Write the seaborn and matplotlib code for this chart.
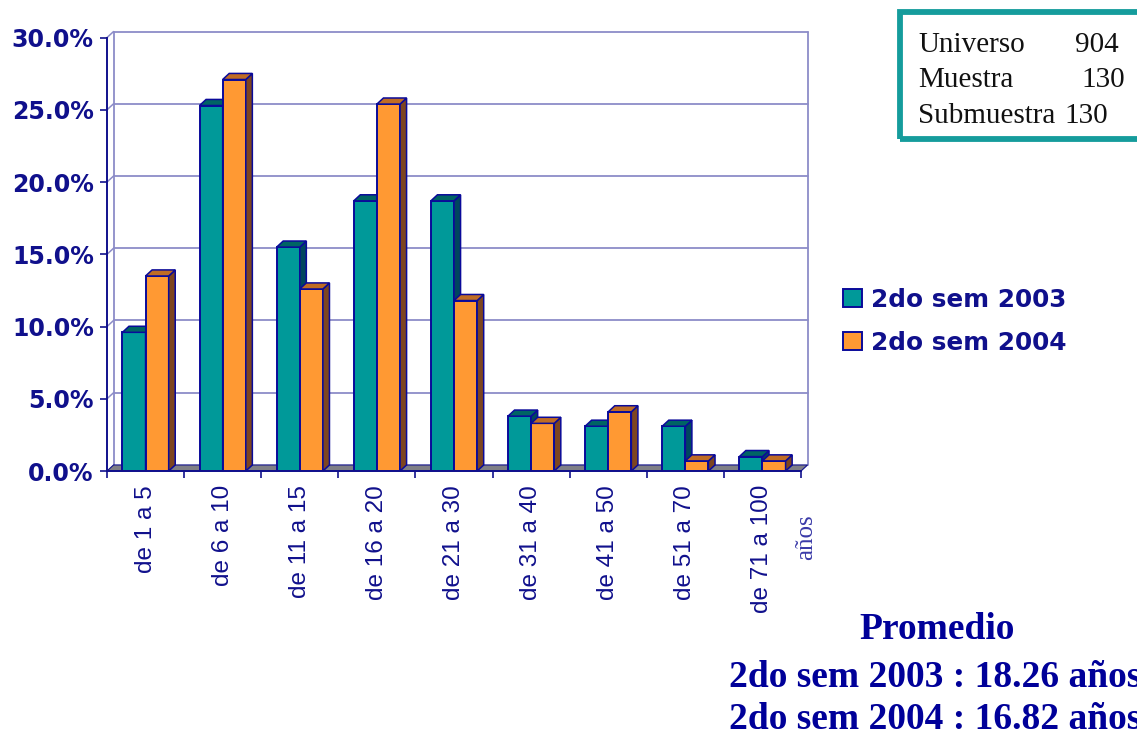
import matplotlib
matplotlib.use("Agg")
import matplotlib.pyplot as plt
import pandas as pd
import seaborn as sns
from matplotlib.patches import Polygon, Rectangle
from matplotlib.ticker import PercentFormatter, FixedLocator
from matplotlib.font_manager import FontProperties

# Distribución por rangos de antigüedad (años)
rangos = ["de 1 a 5", "de 6 a 10", "de 11 a 15", "de 16 a 20", "de 21 a 30",
          "de 31 a 40", "de 41 a 50", "de 51 a 70", "de 71 a 100"]
series = ["2do sem 2003", "2do sem 2004"]
sem_2003 = [9.6, 25.3, 15.5, 18.7, 18.7, 3.8, 3.1, 3.1, 1.0]
sem_2004 = [13.5, 27.1, 12.6, 25.4, 11.8, 3.3, 4.1, 0.7, 0.7]

ficha_etiquetas = ["Universo", "Muestra", "Submuestra"]
ficha_valores = ["904", "130", "130"]
promedios = ["18.26", "16.82"]

NAVY = "#10108c"
EDGE = "#0a0a9a"
TEAL = "#009999"
ORANGE = "#ff9933"
SIDE = ["#00465e", "#7d4520"]
TOP = ["#006464", "#c06c24"]
GRID = "#8c8cc8"

df = pd.DataFrame({
    "rango": rangos * 2,
    "serie": [series[0]] * len(rangos) + [series[1]] * len(rangos),
    "pct": sem_2003 + sem_2004,
})

sns.set_theme(style="white")
fig = plt.figure(figsize=(11.37, 7.33), dpi=100)
ax = fig.add_axes([0.0941, 0.3574, 0.6104, 0.5913])

sns.barplot(data=df, x="rango", y="pct", hue="serie", palette=[TEAL, ORANGE],
            width=0.6, saturation=1, edgecolor=EDGE, linewidth=1.4, ax=ax,
            legend=True)

ax.set_xlim(-0.5, len(rangos) - 0.5)
ax.set_ylim(0, 30)

# profundidad del efecto 3D, en unidades de datos
dx, dy = 0.085, 0.42
x0, x1 = -0.5, len(rangos) - 0.5

# pared del fondo con su cuadrícula
for y in range(5, 31, 5):
    ax.plot([x0 + dx, x1 + dx], [y + dy, y + dy], color=GRID, lw=1.3,
            zorder=0.5, clip_on=False)
    ax.plot([x0, x0 + dx], [y, y + dy], color=GRID, lw=1.1, zorder=0.5,
            clip_on=False)
for xe in (x0 + dx, x1 + dx):
    ax.plot([xe, xe], [dy, 30 + dy], color=GRID, lw=1.3, zorder=0.5,
            clip_on=False)

# piso
ax.add_patch(Polygon([(x0, 0), (x1, 0), (x1 + dx, dy), (x0 + dx, dy)],
                     closed=True, facecolor="#7f7f86", edgecolor=NAVY,
                     lw=0.8, zorder=1, clip_on=False))

# caras laterales y superiores de cada barra
for k, cont in enumerate(ax.containers):
    for bar in cont:
        bx, bw, bh = bar.get_x(), bar.get_width(), bar.get_height()
        bar.set_zorder(3 + k)
        side = Polygon([(bx + bw, 0), (bx + bw + dx, dy),
                        (bx + bw + dx, bh + dy), (bx + bw, bh)],
                       closed=True, facecolor=SIDE[k], edgecolor=EDGE,
                       lw=1.1, zorder=3 + k, clip_on=False)
        top = Polygon([(bx, bh), (bx + dx, bh + dy), (bx + bw + dx, bh + dy),
                       (bx + bw, bh)],
                      closed=True, facecolor=TOP[k], edgecolor=EDGE,
                      lw=1.1, zorder=3 + k, clip_on=False)
        ax.add_patch(side)
        ax.add_patch(top)

# ejes
for s in ("top", "right"):
    ax.spines[s].set_visible(False)
for s in ("left", "bottom"):
    ax.spines[s].set_color(NAVY)
    ax.spines[s].set_linewidth(1.4)
    ax.spines[s].set_zorder(6)

ax.yaxis.set_major_locator(FixedLocator(range(0, 31, 5)))
ax.yaxis.set_major_formatter(PercentFormatter(xmax=100, decimals=1))
ax.tick_params(axis="y", length=5, width=1.2, color=NAVY, pad=4.5,
               labelcolor=NAVY, left=True)
for lbl in ax.get_yticklabels():
    lbl.set_fontproperties(FontProperties(family="DejaVu Sans",
                                          weight="bold", size=17))

ax.xaxis.set_minor_locator(FixedLocator([i - 0.5 for i in range(len(rangos) + 1)]))
ax.tick_params(axis="x", which="major", length=0, pad=10, labelcolor=NAVY)
ax.tick_params(axis="x", which="minor", length=5, width=1.2, color=NAVY,
               bottom=True)
ax.set_xticks(range(len(rangos)))
ax.set_xticklabels(rangos, rotation=90,
                   fontproperties=FontProperties(family="Liberation Sans",
                                                 size=17.5))
ax.set_xlabel("")
ax.set_ylabel("")

fig.text(806 / 1137, 1 - 537 / 733, "años", rotation=90, ha="center",
         va="center", color="#3a3aa8", family="Liberation Serif", size=18)

# leyenda
handles, labels = ax.get_legend_handles_labels()
ax.legend(handles, labels, loc="upper left",
          bbox_to_anchor=(843 / 1137, 1 - 288 / 733),
          bbox_transform=fig.transFigure, frameon=False,
          prop=FontProperties(family="DejaVu Sans", weight="bold", size=17.8),
          labelcolor=NAVY, handlelength=0.75, handleheight=0.75,
          handletextpad=0.4, labelspacing=0.75, borderpad=0, borderaxespad=0)

# ficha técnica
fig.patches.append(Rectangle((900 / 1137, 1 - 139 / 733), 300 / 1137,
                             127 / 733, transform=fig.transFigure,
                             fill=False, edgecolor="#159c9c", lw=4.2))
ys = [52, 87, 123]
xs_val = [1075, 1081, 1064]
for lab, val, yb, xv in zip(ficha_etiquetas, ficha_valores, ys, xs_val):
    fig.text(918 / 1137, 1 - yb / 733, lab, ha="left", va="baseline",
             family="Liberation Serif", size=21, color="#111111")
    fig.text(xv / 1137, 1 - yb / 733, val, ha="left", va="baseline",
             family="Liberation Serif", size=21, color="#111111")

# promedios
fig.text(937 / 1137, 1 - 639 / 733, "Promedio", ha="center", va="baseline",
         family="Liberation Serif", weight="bold", size=27, color="#000099")
for serie, prom, yb in zip(series, promedios, [687, 729]):
    fig.text(729 / 1137, 1 - yb / 733, f"{serie} : {prom} años", ha="left",
             va="baseline", family="Liberation Serif", weight="bold",
             size=27, color="#000099")

fig.savefig("out.png", dpi=100, facecolor="white")
